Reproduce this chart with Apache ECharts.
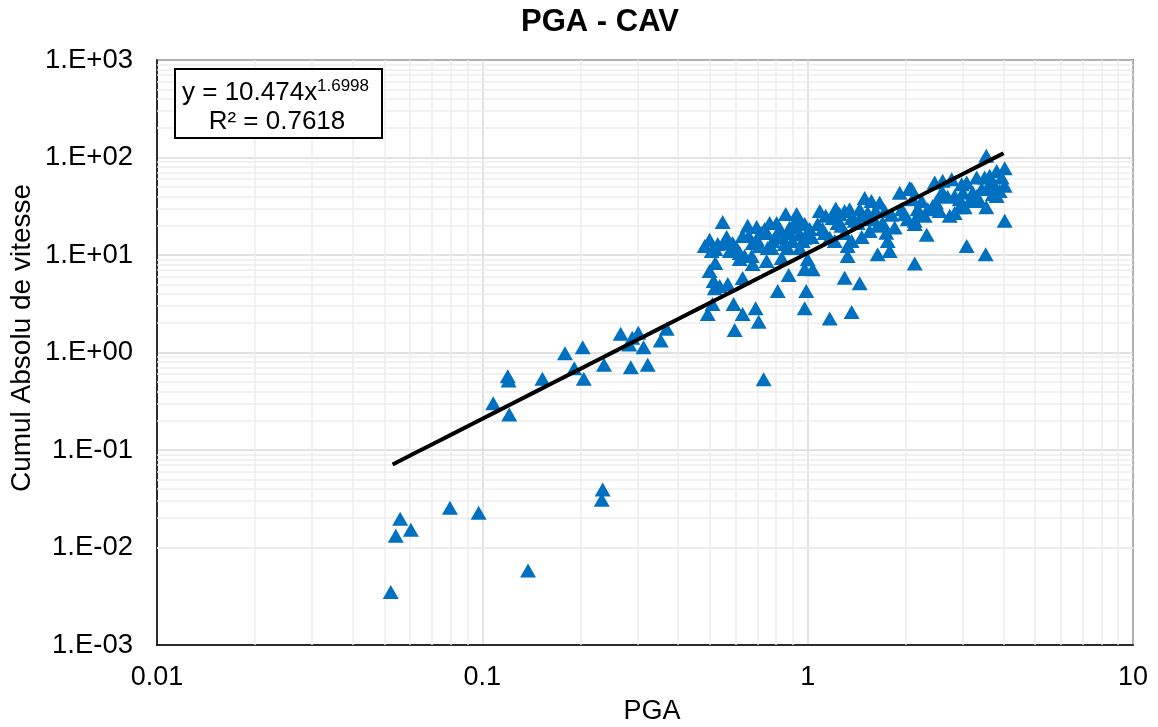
<!DOCTYPE html>
<html>
<head>
<meta charset="utf-8">
<script src="https://cdn.jsdelivr.net/npm/echarts@6/dist/echarts.min.js"></script>
<style>
html, body { margin: 0; padding: 0; background: #fff; }
#chart { width: 1158px; height: 727px; }
</style>
</head>
<body>
<div id="chart"></div>
<script>
// PGA (g) of each record
const pga = [
  0.0559, 0.0542, 0.0603, 0.0795, 0.0974, 0.0523, 0.1382, 0.2344, 0.2328,
  0.108, 0.121, 0.1197, 0.1204, 0.153, 0.1795, 0.2035, 0.1917, 0.205, 0.2366,
  0.2662, 0.289, 0.3015, 0.283, 0.313, 0.286, 0.3224, 0.3535, 0.3687,
  0.548, 0.803, 0.925, 0.945, 0.880, 0.4995, 0.529, 0.556, 0.588, 0.631,
  0.659, 0.6775, 0.72, 0.748, 0.781, 0.809, 0.838, 0.880, 0.945, 0.979,
  0.507, 0.52, 0.618, 0.640, 0.673, 0.7535, 0.775, 0.868, 0.945, 0.52,
  0.618, 0.6775, 0.748, 0.832, 0.979, 0.4995, 0.514, 0.631, 0.874, 0.518,
  0.5365, 0.568, 0.809, 0.99, 0.51, 0.592, 0.692, 0.979, 0.493, 0.631,
  0.707, 0.5965, 0.7323,
  0.945, 0.979, 1.014, 1.073, 1.089, 1.112, 1.169, 1.193, 1.22, 1.254,
  1.27, 1.299, 1.346, 1.365, 1.395, 1.445, 1.497, 1.529, 1.57, 1.584,
  1.665, 1.70, 1.745, 1.762, 1.787, 1.851, 1.918, 1.945, 2.029, 2.058,
  2.102, 2.133, 2.178, 1.0, 1.036, 1.327, 1.641, 2.133, 1.299, 1.445,
  1.169, 1.365, 1.299, 1.365, 1.327, 1.551, 0.965, 1.029,
  3.54, 4.033, 3.81, 3.948, 3.626, 3.5, 3.308, 4.033, 3.757, 3.575,
  3.426, 3.216, 3.082, 2.975, 3.0, 2.933, 3.039, 2.933, 3.308, 3.704,
  3.81, 3.54, 4.033, 2.771, 2.6, 2.457, 2.6, 2.48, 2.423, 2.34,
  2.289, 2.21, 2.133, 2.088, 2.322, 3.082, 3.525,
  2.693, 2.83, 2.545, 1.136, 1.425, 1.618, 1.812, 1.466, 1.211, 0.712,
  0.85, 0.576, 0.654, 0.764, 0.697, 0.856, 0.925,
  0.4826, 0.5636, 0.605, 0.697, 0.7376, 0.820, 0.899, 0.912, 1.128, 1.236,
  1.466, 1.641, 1.725, 1.987, 2.241, 2.545, 2.83, 3.148, 3.379, 3.678,
  3.892, 2.733
];

// Cumulative absolute velocity of each record
const cav = [
  0.0197, 0.0132, 0.0152, 0.0255, 0.0227, 0.0035, 0.0058, 0.0394, 0.0309,
  0.301, 0.231, 0.571, 0.516, 0.537, 0.983, 1.133, 0.690, 0.537, 0.747,
  1.556, 1.416, 1.593, 1.208, 1.133, 0.706, 0.747, 1.328, 1.751,
  21.8, 21.3, 23.4, 20.8, 19.2, 14.3, 13.0, 13.3, 13.3, 15.7,
  15.7, 13.3, 16.8, 16.8, 13.9, 16.4, 15.0, 16.8, 16.4, 15.0,
  11.0, 11.5, 10.5, 9.77, 9.77, 11.8, 11.8, 11.8, 11.8, 8.3,
  9.1, 8.08, 8.68, 9.3, 7.18, 6.85, 5.41, 5.8, 6.23, 4.55,
  4.8, 5.04, 4.27, 4.27, 3.14, 3.14, 2.85, 2.85, 2.48, 2.48,
  2.07, 1.70, 0.532,
  22.4, 20.8, 18.5, 20.8, 28.3, 18.5, 15.0, 24.0, 30.0, 26.4,
  19.9, 28.3, 29.5, 24.0, 22.4, 29.5, 38.4, 27.2, 35.9, 23.3,
  34.4, 21.4, 16.9, 13.9, 11.0, 19.2, 43.6, 29.5, 23.3, 48.6,
  37.3, 20.8, 29.5, 9.05, 7.15, 9.77, 10.2, 8.2, 5.85, 5.13,
  2.23, 2.6, 16.8, 13.9, 12.4, 17.6, 13.9, 15.3,
  104, 77.5, 72.9, 62.3, 64.8, 62.3, 62.3, 51.2, 51.2, 49.4,
  47.4, 43.8, 55.4, 53.3, 43.8, 37.4, 30.8, 30.8, 40.4, 41.9,
  40.4, 30.8, 22.4, 60.0, 57.6, 55.5, 43.8, 34.5, 31.9, 29.5,
  25.2, 27.2, 22.4, 47.4, 16.1, 12.4, 10.2,
  39.5, 27.0, 28.3, 25.2, 21.3, 28.3, 25.8, 15.3, 13.9, 12.4,
  13.0, 11.0, 19.9, 21.3, 19.4, 26.4, 26.4,
  12.4, 15.3, 11.8, 14.6, 18.5, 18.5, 13.9, 19.9, 16.8, 21.3,
  25.2, 19.9, 28.3, 26.4, 35.9, 40.4, 40.4, 35.9, 35.9, 53.6,
  45.4, 25.2
];

const xTickLabels = ['0.01', '0.1', '1', '10'];
const yTickLabels = ['1.E-03', '1.E-02', '1.E-01', '1.E+00', '1.E+01', '1.E+02', '1.E+03'];

// Power-law fit  y = a * x^b
const fitCoef = 10.474;
const fitExp = 1.6998;
const fitR2 = '0.7618';
const fitRange = [0.053, 4.0];

// Minor grid multipliers inside each decade
const minorSteps = [2, 3, 4, 5, 6, 7, 8, 9];
const xDecades = [0.01, 0.1, 1];
const yDecades = [0.001, 0.01, 0.1, 1, 10, 100];

const FONT = '"Liberation Sans", Arial, Helvetica, sans-serif';

const points = pga.map((x, i) => [x, cav[i]]);

const fitLine = [];
const lo = Math.log10(fitRange[0]), hi = Math.log10(fitRange[1]);
for (let i = 0; i <= 30; i++) {
  const x = Math.pow(10, lo + (hi - lo) * i / 30);
  fitLine.push([x, fitCoef * Math.pow(x, fitExp)]);
}

const minorLines = [];
xDecades.forEach(d => minorSteps.forEach(m => minorLines.push({ xAxis: +(d * m).toPrecision(3) })));
yDecades.forEach(d => minorSteps.forEach(m => minorLines.push({ yAxis: +(d * m).toPrecision(3) })));

function decadeIndex(v, base) {
  return Math.round(Math.log10(v) - Math.log10(base));
}

const chart = echarts.init(document.getElementById('chart'), null, { renderer: 'canvas' });

chart.setOption({
  animation: false,
  backgroundColor: '#fff',
  textStyle: { fontFamily: FONT },
  grid: {
    left: 157, right: 25, top: 60, bottom: 82,
    show: true, borderColor: '#000', borderWidth: 1.5,
    containLabel: false, outerBoundsMode: 'none'
  },
  xAxis: {
    type: 'log', logBase: 10, min: 0.01, max: 10,
    axisLine: { show: true, lineStyle: { color: '#000', width: 1.5 } },
    axisTick: { show: false },
    axisLabel: {
      fontSize: 27, color: '#000', fontFamily: FONT, margin: 19,
      showMinLabel: true, showMaxLabel: true, hideOverlap: false,
      formatter: v => xTickLabels[decadeIndex(v, 0.01)]
    },
    splitLine: { show: true, lineStyle: { color: '#d9d9d9', width: 1.5 } }
  },
  yAxis: {
    type: 'log', logBase: 10, min: 0.001, max: 1000,
    axisLine: { show: true, lineStyle: { color: '#000', width: 1.5 } },
    axisTick: { show: false },
    axisLabel: {
      fontSize: 27.5, color: '#000', fontFamily: FONT, margin: 24,
      showMinLabel: true, showMaxLabel: true, hideOverlap: false,
      formatter: v => yTickLabels[decadeIndex(v, 0.001)]
    },
    splitLine: { show: true, lineStyle: { color: '#d9d9d9', width: 1.5 } }
  },
  series: [
    {
      name: 'minor-grid',
      type: 'scatter',
      data: [],
      silent: true,
      markLine: {
        z: 1,
        silent: true,
        symbol: 'none',
        animation: false,
        label: { show: false },
        lineStyle: { color: '#ededed', width: 1.5, type: 'solid' },
        emphasis: { disabled: true },
        data: minorLines
      }
    },
    {
      name: 'CAV',
      type: 'scatter',
      z: 3,
      symbol: 'triangle',
      symbolSize: [16, 14],
      itemStyle: { color: '#0070C0', opacity: 1 },
      data: points
    },
    {
      name: 'Fit',
      type: 'line',
      z: 4,
      showSymbol: false,
      symbol: 'none',
      smooth: false,
      lineStyle: { color: '#000', width: 4 },
      data: fitLine
    }
  ],
  graphic: [
    {
      type: 'text', x: 600, y: 22,
      style: { text: 'PGA - CAV', font: 'bold 31px ' + FONT, fill: '#000', align: 'center', verticalAlign: 'middle' }
    },
    {
      type: 'text', x: 652, y: 712,
      style: { text: 'PGA', font: '27px ' + FONT, fill: '#000', align: 'center', verticalAlign: 'middle' }
    },
    {
      type: 'text', x: 22, y: 338, rotation: Math.PI / 2,
      style: { text: 'Cumul Absolu de vitesse', font: '28px ' + FONT, fill: '#000', align: 'center', verticalAlign: 'middle' }
    },
    {
      type: 'rect', z: 10,
      shape: { x: 175, y: 69, width: 207, height: 69 },
      style: { fill: '#fff', stroke: '#000', lineWidth: 2 }
    },
    {
      type: 'text', z: 11, x: 182, y: 93,
      style: { text: 'y = ' + fitCoef + 'x', font: '26px ' + FONT, fill: '#000', align: 'left', verticalAlign: 'middle' }
    },
    {
      type: 'text', z: 11, x: 317, y: 86,
      style: { text: String(fitExp), font: '17px ' + FONT, fill: '#000', align: 'left', verticalAlign: 'middle' }
    },
    {
      type: 'text', z: 11, x: 277, y: 122,
      style: { text: 'R\u00B2 = ' + fitR2, font: '26px ' + FONT, fill: '#000', align: 'center', verticalAlign: 'middle' }
    }
  ]
});
</script>
</body>
</html>
